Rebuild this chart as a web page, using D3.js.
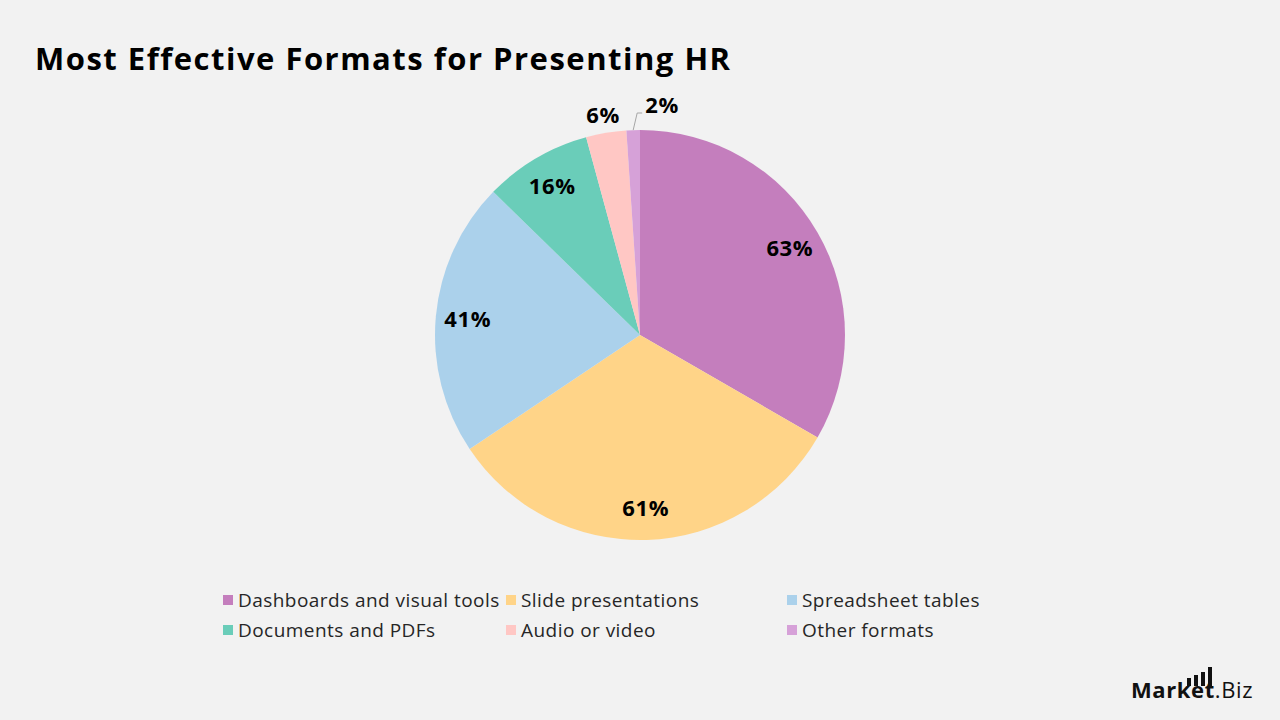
<!DOCTYPE html>
<html lang="en">
<head>
  <meta charset="UTF-8">
  <title>Most Effective Formats for Presenting HR</title>
  <style>
    body { margin: 0; background: #f2f2f2; }
    svg { display: block; font-family: "Open Sans", sans-serif; }
  </style>
</head>
<body>
  <script src="https://cdn.jsdelivr.net/npm/d3@7"></script>
  <script>
    const categories = ["Dashboards and visual tools", "Slide presentations", "Spreadsheet tables",
      "Documents and PDFs", "Audio or video", "Other formats"];
    const values = [63, 61, 41, 16, 6, 2];
    const colors = ["#c47ebd", "#ffd488", "#abd1eb", "#6acdb9", "#ffc7c4", "#d6a1d8"];

    const width = 1280, height = 720;
    const cx = 640, cy = 335, radius = 205;

    const svg = d3.select("body").append("svg")
      .attr("width", width)
      .attr("height", height);

    svg.append("rect").attr("width", width).attr("height", height).attr("fill", "#f2f2f2");

    svg.append("text")
      .attr("x", 35).attr("y", 70)
      .attr("font-size", 31).attr("font-weight", 700)
      .attr("letter-spacing", 1.5)
      .attr("fill", "#000")
      .text("Most Effective Formats for Presenting HR");

    const data = categories.map((c, i) => ({ name: c, value: values[i], color: colors[i] }));

    const pie = d3.pie().value(d => d.value).sort(null);
    const arc = d3.arc().innerRadius(0).outerRadius(radius);
    const labelArc = d3.arc().innerRadius(173).outerRadius(173);
    const outerArc = d3.arc().innerRadius(223).outerRadius(223);

    const g = svg.append("g").attr("transform", `translate(${cx},${cy})`);
    const arcs = pie(data);

    g.selectAll("path.slice")
      .data(arcs)
      .join("path")
      .attr("class", "slice")
      .attr("d", arc)
      .attr("fill", d => d.data.color);

    // labels: big slices inside, small ones outside
    g.selectAll("text.lbl")
      .data(arcs)
      .join("text")
      .attr("class", "lbl")
      .attr("transform", (d, i) => {
        if (i < 4) return `translate(${labelArc.centroid(d)})`;
        if (i === 4) return `translate(${outerArc.centroid(d)})`;
        return "translate(22,-230)";
      })
      .attr("text-anchor", "middle")
      .attr("dy", "0.35em")
      .attr("font-size", 22).attr("font-weight", 700)
      .attr("letter-spacing", 0.6)
      .attr("fill", "#000")
      .text(d => d.value + "%");

    // leader line for the smallest slice
    const last = arcs[arcs.length - 1];
    const mid = (last.startAngle + last.endAngle) / 2;
    const p0 = [Math.sin(mid) * radius, -Math.cos(mid) * radius];
    g.append("polyline")
      .attr("points", [p0, [p0[0] + 4, -222], [p0[0] + 9, -222]].map(p => p.join(",")).join(" "))
      .attr("fill", "none")
      .attr("stroke", "#a6a6a6")
      .attr("stroke-width", 1);

    // legend
    const legendCols = [223, 506, 787];
    const legendRows = [600, 630];
    const legend = svg.append("g");
    data.forEach((d, i) => {
      const x = legendCols[i % 3], y = legendRows[Math.floor(i / 3)];
      legend.append("rect")
        .attr("x", x).attr("y", y - 5)
        .attr("width", 10).attr("height", 10)
        .attr("fill", d.color);
      legend.append("text")
        .attr("x", x + 15).attr("y", y)
        .attr("dy", "0.35em")
        .attr("font-size", 19)
        .attr("letter-spacing", 0.45)
        .attr("fill", "#262626")
        .text(d.name);
    });

    // logo
    const logo = svg.append("g").attr("transform", "translate(1131,698)");
    logo.append("text")
      .attr("font-size", 22).attr("font-weight", 700).attr("fill", "#111")
      .attr("letter-spacing", 0.6)
      .text("Market")
      .append("tspan").attr("font-weight", 400).text(".Biz");
    const bars = [8, 11, 14, 19];
    logo.selectAll("rect.bar")
      .data(bars)
      .join("rect")
      .attr("class", "bar")
      .attr("x", (d, i) => 56 + i * 7)
      .attr("y", d => -12 - d)
      .attr("width", 4)
      .attr("height", d => d)
      .attr("fill", "#111");
  </script>
</body>
</html>
